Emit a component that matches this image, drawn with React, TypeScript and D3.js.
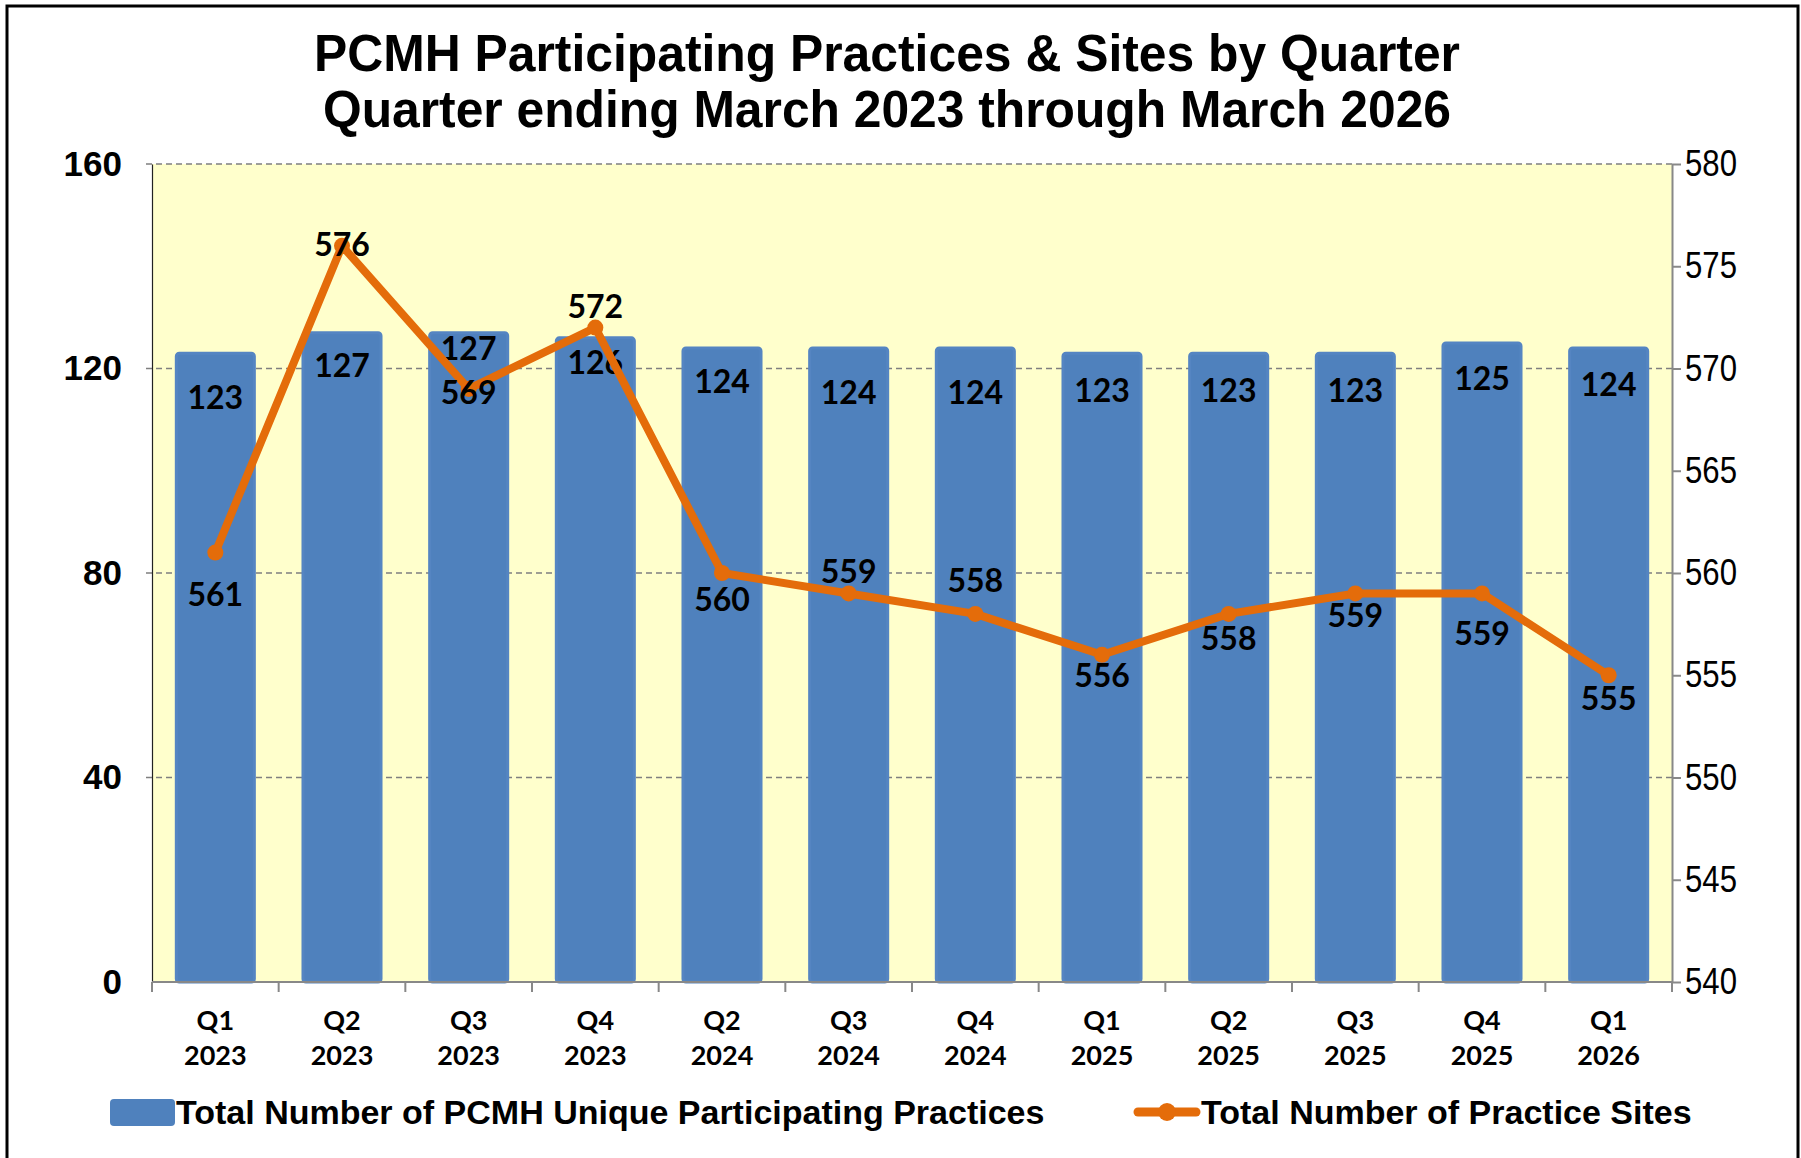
import React, { useEffect, useRef } from 'react';
import * as d3 from 'd3';

const quarters = ['Q1', 'Q2', 'Q3', 'Q4', 'Q2', 'Q3', 'Q4', 'Q1', 'Q2', 'Q3', 'Q4', 'Q1'];
const years = ['2023', '2023', '2023', '2023', '2024', '2024', '2024', '2025', '2025', '2025', '2025', '2026'];
const practices = [123, 127, 127, 126, 124, 124, 124, 123, 123, 123, 125, 124];
const sites = [561, 576, 569, 572, 560, 559, 558, 556, 558, 559, 559, 555];
const leftTicks = [0, 40, 80, 120, 160];
const rightTicks = [540, 545, 550, 555, 560, 565, 570, 575, 580];

// label nudges (px from the mark), picked to match the original placement
const barLabelDy = [43, 32, 15, 24, 32, 43, 43, 36, 36, 36, 35, 35];
const lineLabelDy = [41, -2, 3, -22, 25, -23, -34, 20, 24, 21, 39, 22];

const W = 1801;
const H = 1158;
const NARROW = '"Liberation Sans Narrow", "Arial Narrow", "Liberation Sans", Arial, sans-serif';
const LABEL = 'Lato, Carlito, Calibri, "Open Sans", sans-serif';
const BLUE = '#4F81BD';
const ORANGE = '#E46C0A';

const App = () => {
  const svgRef = useRef<SVGSVGElement | null>(null);

  useEffect(() => {
    const svg = d3.select(svgRef.current);
    svg.selectAll('*').remove();

    const left = 152, right = 1672, top = 164, bottom = 982;
    const keys = quarters.map((q, i) => q + ' ' + years[i] + ' ' + i);

    const x = d3.scaleBand().domain(keys).range([left, right]).paddingInner(0.384).paddingOuter(0.192);
    const y = d3.scaleLinear().domain([0, 160]).range([bottom, top]);
    const y2 = d3.scaleLinear().domain([540, 580]).range([bottom, top]);

    svg.append('rect').attr('width', W).attr('height', H).attr('fill', '#fff');
    svg.append('rect')
      .attr('x', 7).attr('y', 6).attr('width', W - 10).attr('height', H + 20)
      .attr('fill', 'none').attr('stroke', '#000').attr('stroke-width', 3);

    // title
    const title = svg.append('text')
      .attr('text-anchor', 'middle')
      .attr('font-family', NARROW).attr('font-weight', 'bold').attr('font-size', 52);
    title.append('tspan').attr('x', 887).attr('y', 71)
      .attr('textLength', 1146).attr('lengthAdjust', 'spacingAndGlyphs')
      .text('PCMH Participating Practices & Sites by Quarter');
    svg.append('text')
      .attr('text-anchor', 'middle')
      .attr('font-family', NARROW).attr('font-weight', 'bold').attr('font-size', 52)
      .attr('x', 887).attr('y', 127)
      .attr('textLength', 1128).attr('lengthAdjust', 'spacingAndGlyphs')
      .text('Quarter ending March 2023 through March 2026');

    // plot background
    svg.append('rect')
      .attr('x', left).attr('y', top).attr('width', right - left).attr('height', bottom - top)
      .attr('fill', '#FFFFCC');

    // gridlines
    svg.append('g')
      .selectAll('line')
      .data(leftTicks.filter(d => d > 0))
      .join('line')
      .attr('x1', left - 6).attr('x2', right)
      .attr('y1', d => y(d)).attr('y2', d => y(d))
      .attr('stroke', '#7f7f7f').attr('stroke-width', 1.5).attr('stroke-dasharray', '6,4');

    // left axis
    const gl = svg.append('g')
      .attr('transform', `translate(${left},0)`)
      .call(d3.axisLeft(y).tickValues(leftTicks).tickSize(0).tickPadding(30));
    gl.select('.domain').attr('stroke', '#222').attr('stroke-width', 1.2);
    gl.selectAll('text')
      .attr('font-family', NARROW).attr('font-weight', 'bold').attr('font-size', 35).attr('fill', '#000');

    // right axis
    const gr = svg.append('g')
      .attr('transform', `translate(${right},0)`)
      .call(d3.axisRight(y2).tickValues(rightTicks).tickSize(9).tickPadding(4).tickSizeOuter(0));
    gr.select('.domain').attr('stroke', '#888').attr('stroke-width', 2);
    gr.selectAll('line').attr('stroke', '#888').attr('stroke-width', 2);
    gr.selectAll('text')
      .attr('font-family', NARROW).attr('font-size', 36).attr('fill', '#000')
      .attr('textLength', 52).attr('lengthAdjust', 'spacingAndGlyphs');

    // bars
    svg.append('g')
      .selectAll('rect')
      .data(practices)
      .join('rect')
      .attr('x', (d, i) => x(keys[i]))
      .attr('y', d => y(d))
      .attr('width', x.bandwidth())
      .attr('height', d => bottom - y(d))
      .attr('rx', 3)
      .attr('fill', BLUE)
      .attr('stroke', '#5585C2').attr('stroke-width', 3);

    // bottom axis with boundary ticks
    const boundaries = d3.range(keys.length + 1).map(i => left + i * x.step());
    svg.append('line')
      .attr('x1', left).attr('x2', right).attr('y1', bottom).attr('y2', bottom)
      .attr('stroke', '#888').attr('stroke-width', 2);
    svg.append('g')
      .selectAll('line')
      .data(boundaries)
      .join('line')
      .attr('x1', d => d).attr('x2', d => d)
      .attr('y1', bottom).attr('y2', bottom + 10)
      .attr('stroke', '#888').attr('stroke-width', 2);

    const xl = svg.append('g')
      .selectAll('text')
      .data(keys)
      .join('text')
      .attr('text-anchor', 'middle')
      .attr('font-family', LABEL).attr('font-weight', 'bold').attr('font-size', 27).attr('fill', '#000');
    xl.append('tspan').attr('x', d => x(d) + x.bandwidth() / 2).attr('y', 1030).text((d, i) => quarters[i]);
    xl.append('tspan').attr('x', d => x(d) + x.bandwidth() / 2).attr('y', 1065).text((d, i) => years[i]);

    // bar labels
    svg.append('g')
      .selectAll('text')
      .data(practices)
      .join('text')
      .attr('x', (d, i) => x(keys[i]) + x.bandwidth() / 2)
      .attr('y', (d, i) => y(d) + barLabelDy[i])
      .attr('dominant-baseline', 'central')
      .attr('text-anchor', 'middle')
      .attr('font-family', LABEL).attr('font-weight', 'bold').attr('font-size', 32).attr('fill', '#000')
      .text(d => d);

    // line
    const line = d3.line<number>()
      .x((d, i) => x(keys[i]) + x.bandwidth() / 2)
      .y(d => y2(d));
    svg.append('path')
      .datum(sites)
      .attr('d', line)
      .attr('fill', 'none')
      .attr('stroke', ORANGE).attr('stroke-width', 8).attr('stroke-linejoin', 'round');
    svg.append('g')
      .selectAll('circle')
      .data(sites)
      .join('circle')
      .attr('cx', (d, i) => x(keys[i]) + x.bandwidth() / 2)
      .attr('cy', d => y2(d))
      .attr('r', 8)
      .attr('fill', ORANGE);

    svg.append('g')
      .selectAll('text')
      .data(sites)
      .join('text')
      .attr('x', (d, i) => x(keys[i]) + x.bandwidth() / 2)
      .attr('y', (d, i) => y2(d) + lineLabelDy[i])
      .attr('dominant-baseline', 'central')
      .attr('text-anchor', 'middle')
      .attr('font-family', LABEL).attr('font-weight', 'bold').attr('font-size', 32).attr('fill', '#000')
      .text(d => d);

    // legend
    svg.append('rect')
      .attr('x', 110).attr('y', 1099).attr('width', 65).attr('height', 27).attr('rx', 4)
      .attr('fill', BLUE);
    svg.append('text')
      .attr('x', 176).attr('y', 1124)
      .attr('font-family', NARROW).attr('font-weight', 'bold').attr('font-size', 34)
      .text('Total Number of PCMH Unique Participating Practices');
    svg.append('line')
      .attr('x1', 1138).attr('x2', 1196).attr('y1', 1112).attr('y2', 1112)
      .attr('stroke', ORANGE).attr('stroke-width', 9).attr('stroke-linecap', 'round');
    svg.append('circle').attr('cx', 1167).attr('cy', 1112).attr('r', 9).attr('fill', ORANGE);
    svg.append('text')
      .attr('x', 1201).attr('y', 1124)
      .attr('font-family', NARROW).attr('font-weight', 'bold').attr('font-size', 34)
      .text('Total Number of Practice Sites');
  }, []);

  return (
    <div style={{ position: 'absolute', left: 0, top: 0 }}>
      <svg ref={svgRef} width={W} height={H} style={{ display: 'block' }}></svg>
    </div>
  );
};

export default App;
